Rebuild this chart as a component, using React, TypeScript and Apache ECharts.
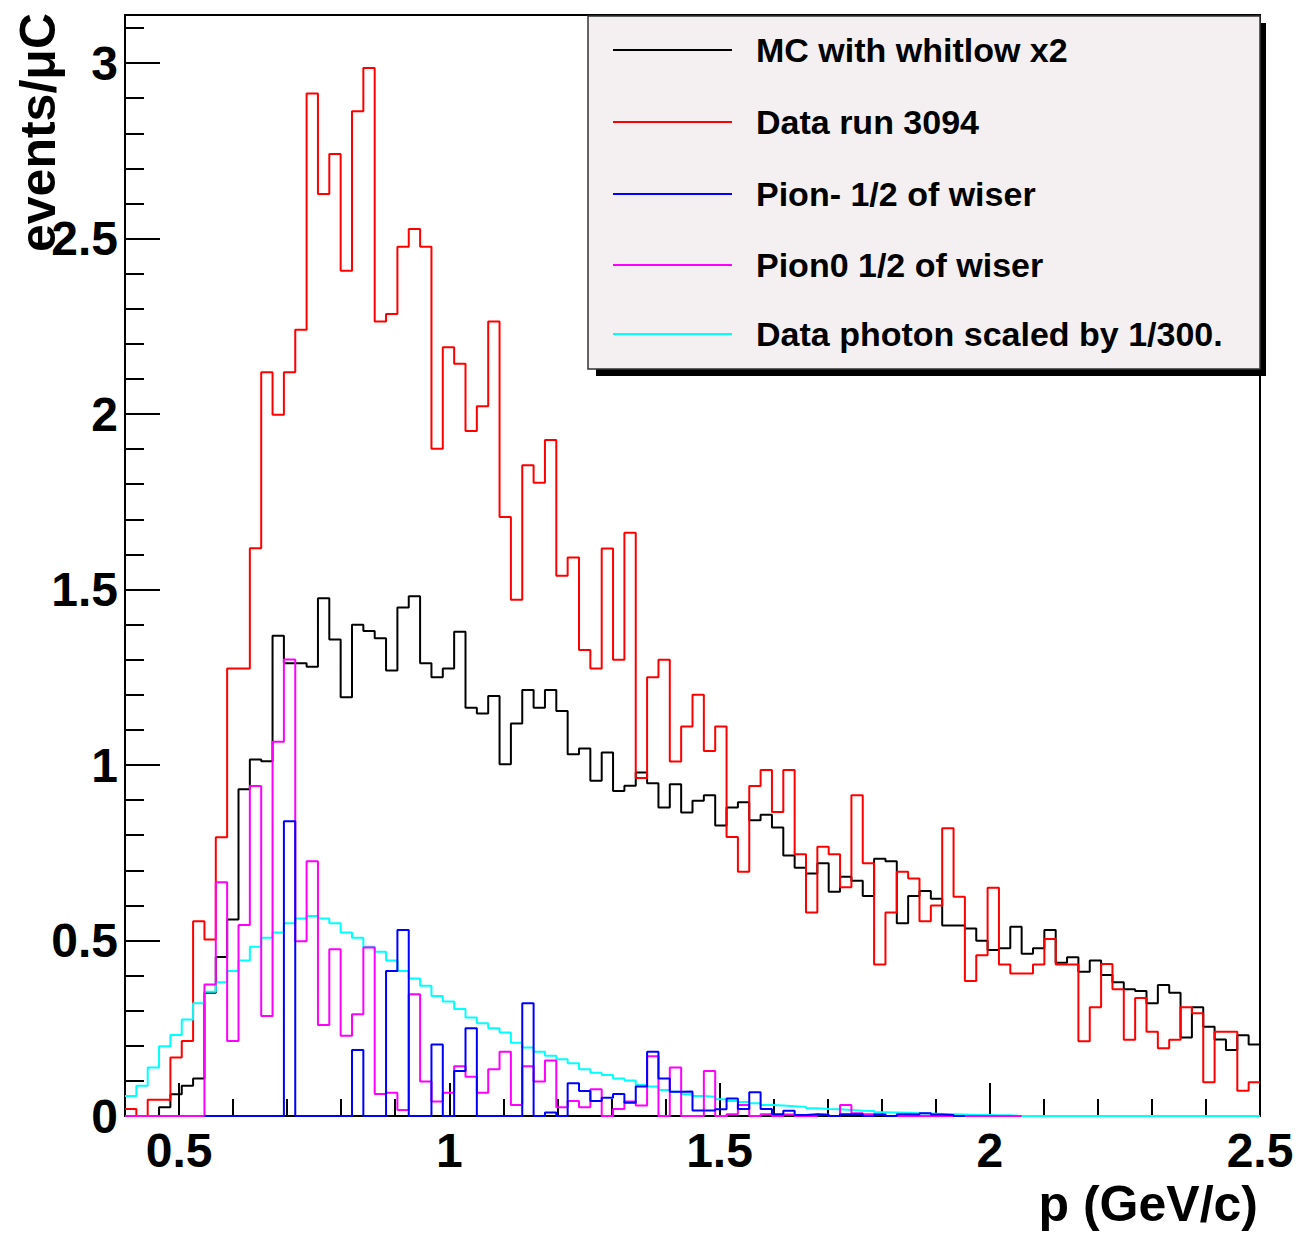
import React, { useEffect, useRef } from 'react';
import * as echarts from 'echarts';

// Histogram binning (100 bins from 0.4 to 2.5 GeV/c)
const X_MIN = 0.4;
const X_MAX = 2.5;
const BIN_COUNT = 100;
const Y_MAX = 3.137;

const seriesNames = [
  'MC with whitlow x2',
  'Data run 3094',
  'Pion- 1/2 of wiser',
  'Pion0 1/2 of wiser',
  'Data photon scaled by 1/300.',
];

const mcWhitlow = [
  0, 0, 0, 0.025, 0.062, 0.086, 0.107, 0.351, 0.453, 0.56,
  0.931, 1.016, 1.011, 1.368, 1.29, 1.29, 1.28, 1.475, 1.358, 1.193,
  1.40, 1.382, 1.361, 1.269, 1.449, 1.481, 1.29, 1.25, 1.275, 1.38,
  1.163, 1.147, 1.197, 1.002, 1.118, 1.214, 1.163, 1.214, 1.154, 1.031,
  1.047, 0.955, 1.036, 0.926, 0.941, 0.979, 0.948, 0.879, 0.945, 0.865,
  0.898, 0.914, 0.828, 0.879, 0.894, 0.843, 0.858, 0.822, 0.742, 0.707,
  0.691, 0.72, 0.639, 0.682, 0.67, 0.627, 0.733, 0.726, 0.549, 0.627,
  0.641, 0.619, 0.543, 0.543, 0.534, 0.499, 0.473, 0.478, 0.539, 0.462,
  0.478, 0.53, 0.437, 0.452, 0.411, 0.443, 0.402, 0.381, 0.361, 0.356,
  0.321, 0.373, 0.351, 0.224, 0.31, 0.254, 0.218, 0.188, 0.23, 0.204,
];

const dataRun3094 = [
  0.02, 0, 0.046, 0.046, 0.167, 0.214, 0.555, 0.503, 0.794, 1.275,
  1.275, 1.618, 2.119, 1.998, 2.119, 2.24, 2.913, 2.627, 2.741, 2.408,
  2.863, 2.986, 2.264, 2.285, 2.477, 2.527, 2.477, 1.901, 2.19, 2.143,
  1.952, 2.022, 2.264, 1.707, 1.471, 1.854, 1.804, 1.926, 1.539, 1.591,
  1.328, 1.275, 1.617, 1.30, 1.662, 0.963, 1.25, 1.30, 1.01, 1.11,
  1.20, 1.04, 1.11, 0.795, 0.696, 0.94, 0.986, 0.866, 0.986, 0.746,
  0.58, 0.767, 0.746, 0.652, 0.914, 0.72, 0.432, 0.58, 0.696, 0.677,
  0.555, 0.60, 0.82, 0.625, 0.385, 0.458, 0.65, 0.432, 0.406, 0.406,
  0.432, 0.504, 0.432, 0.432, 0.213, 0.31, 0.433, 0.361, 0.217, 0.336,
  0.24, 0.193, 0.217, 0.31, 0.293, 0.096, 0.24, 0.24, 0.072, 0.096,
];

const pionMinus = [
  0, 0, 0, 0, 0, 0, 0, 0, 0, 0,
  0, 0, 0, 0, 0.84, 0, 0, 0, 0, 0,
  0.188, 0, 0, 0.413, 0.53, 0, 0, 0.204, 0, 0.128,
  0.25, 0, 0, 0, 0, 0.321, 0, 0.01, 0, 0.093,
  0.071, 0.043, 0.052, 0.063, 0.038, 0.084, 0.183, 0.107, 0.069, 0.07,
  0.016, 0.016, 0.019, 0.05, 0.02, 0.068, 0.02, 0.005, 0.015, 0.003,
  0.005, 0.003, 0, 0.005, 0.006, 0, 0.004, 0, 0.005, 0.004,
  0.008, 0.004, 0.003, 0, 0, 0, 0, 0, 0, 0,
  0, 0, 0, 0, 0, 0, 0, 0, 0, 0,
  0, 0, 0, 0, 0, 0, 0, 0, 0, 0,
];
const PION_MINUS_FIRST = 7;
const PION_MINUS_LAST = 73;

const pion0 = [
  0, 0, 0, 0, 0, 0, 0, 0.375, 0.666, 0.214,
  0.544, 0.94, 0.285, 1.066, 1.301, 0.498, 0.726, 0.259, 0.475, 0.229,
  0.29, 0.48, 0.063, 0.066, 0.017, 0.347, 0.098, 0.041, 0.066, 0.142,
  0.112, 0.066, 0.133, 0.183, 0.031, 0.142, 0.098, 0.158, 0.025, 0.043,
  0.025, 0.076, 0, 0.02, 0.041, 0.03, 0.17, 0, 0.138, 0,
  0, 0.128, 0, 0.005, 0.031, 0, 0.005, 0, 0.004, 0,
  0, 0.004, 0, 0.031, 0.008, 0.005, 0.004, 0, 0, 0,
  0, 0, 0, 0, 0, 0, 0, 0, 0, 0,
  0, 0, 0, 0, 0, 0, 0, 0, 0, 0,
  0, 0, 0, 0, 0, 0, 0, 0, 0, 0,
];
const PION0_LAST = 78;

const dataPhoton = [
  0.057, 0.086, 0.138, 0.199, 0.231, 0.275, 0.321, 0.354, 0.381, 0.413,
  0.443, 0.482, 0.508, 0.523, 0.549, 0.563, 0.57, 0.563, 0.549, 0.523,
  0.508, 0.482, 0.468, 0.443, 0.413, 0.392, 0.371, 0.342, 0.326, 0.305,
  0.281, 0.264, 0.25, 0.238, 0.209, 0.195, 0.183, 0.172, 0.162, 0.15,
  0.133, 0.123, 0.117, 0.107, 0.101, 0.088, 0.084, 0.074, 0.069, 0.062,
  0.057, 0.055, 0.048, 0.043, 0.04, 0.036, 0.031, 0.03, 0.028, 0.026,
  0.022, 0.02, 0.019, 0.017, 0.015, 0.014, 0.011, 0.01, 0.009, 0.008,
  0.007, 0.006, 0.005, 0.004, 0.003, 0.003, 0.002, 0.002, 0, 0,
  0, 0, 0, 0, 0, 0, 0, 0, 0, 0,
  0, 0, 0, 0, 0, 0, 0, 0, 0, 0,
];

const xMajorTicks = [0.5, 1, 1.5, 2, 2.5];
const xMinorTicks = [0.5, 0.6, 0.7, 0.8, 0.9, 1, 1.1, 1.2, 1.3, 1.4, 1.5, 1.6, 1.7, 1.8, 1.9, 2, 2.1, 2.2, 2.3, 2.4];
const yMajorTicks = [0, 0.5, 1, 1.5, 2, 2.5, 3];
const yMinorTicks = [0.1, 0.2, 0.3, 0.4, 0.6, 0.7, 0.8, 0.9, 1.1, 1.2, 1.3, 1.4, 1.6, 1.7, 1.8, 1.9, 2.1, 2.2, 2.3, 2.4, 2.6, 2.7, 2.8, 2.9, 3.1];

const COLORS = ['#000000', '#ff0000', '#0000ff', '#ff00ff', '#00ffff'];
const FONT = '"Liberation Sans", Arial, Helvetica, sans-serif';

function steps(values: number[], first = 0, last = values.length - 1) {
  const w = (X_MAX - X_MIN) / BIN_COUNT;
  const pts: number[][] = [];
  for (let i = first; i <= last; i++) pts.push([X_MIN + i * w, values[i]]);
  pts.push([X_MIN + (last + 1) * w, values[last]]);
  return pts;
}

export default function App() {
  const ref = useRef<HTMLDivElement>(null);
  useEffect(() => {
    if (!ref.current) return;
    const chart = echarts.init(ref.current, undefined, { renderer: 'svg' });

    const tickStyle = { color: '#000', width: 2 };
    const histo = (name: string, color: string, data: number[][]) => ({
      name,
      type: 'line',
      step: 'end',
      showSymbol: false,
      symbol: 'none',
      data,
      lineStyle: { color, width: 2 },
      itemStyle: { color },
      xAxisIndex: 0,
      yAxisIndex: 0,
      silent: true,
    });

    const legendRows = [50, 122, 194, 265, 334];
    const legendGraphics: any[] = [
      { type: 'rect', shape: { x: 596, y: 23, width: 670, height: 353 }, style: { fill: '#000' }, z: 100 },
      { type: 'rect', shape: { x: 588, y: 16, width: 672, height: 353 }, style: { fill: '#f4f0f2', stroke: '#333', lineWidth: 1.5 }, z: 101 },
    ];
    seriesNames.forEach((name, i) => {
      legendGraphics.push({
        type: 'line', shape: { x1: 613, y1: legendRows[i], x2: 732, y2: legendRows[i] },
        style: { stroke: COLORS[i], lineWidth: 2 }, z: 102,
      });
      legendGraphics.push({
        type: 'text', x: 756, y: legendRows[i],
        style: { text: name, font: `bold 34px ${FONT}`, fill: '#000', textVerticalAlign: 'middle', textAlign: 'left' },
        z: 102,
      });
    });

    chart.setOption({
      animation: false,
      backgroundColor: '#ffffff',
      grid: {
        left: 125, top: 15, width: 1135, height: 1101,
        show: true, borderColor: '#000', borderWidth: 2, backgroundColor: 'transparent',
        containLabel: false, outerBoundsMode: 'none',
      },
      xAxis: [
        {
          type: 'value', min: X_MIN, max: X_MAX, position: 'bottom',
          axisLine: { show: true, onZero: false, lineStyle: tickStyle },
          axisTick: { show: true, inside: true, length: 33, customValues: xMajorTicks, lineStyle: tickStyle },
          axisLabel: {
            show: true, customValues: xMajorTicks, formatter: (v: number) => String(v),
            fontSize: 48, fontWeight: 'bold', color: '#000', fontFamily: FONT, margin: 10,
          },
          splitLine: { show: false },
        },
        {
          type: 'value', min: X_MIN, max: X_MAX, position: 'bottom',
          axisLine: { show: false, onZero: false },
          axisTick: { show: true, inside: true, length: 17, customValues: xMinorTicks, lineStyle: tickStyle },
          axisLabel: { show: false },
          splitLine: { show: false },
        },
      ],
      yAxis: [
        {
          type: 'value', min: 0, max: Y_MAX, position: 'left',
          axisLine: { show: true, onZero: false, lineStyle: tickStyle },
          axisTick: { show: true, inside: true, length: 35, customValues: yMajorTicks, lineStyle: tickStyle },
          axisLabel: {
            show: true, customValues: yMajorTicks, formatter: (v: number) => String(v),
            fontSize: 48, fontWeight: 'bold', color: '#000', fontFamily: FONT, margin: 7,
          },
          splitLine: { show: false },
        },
        {
          type: 'value', min: 0, max: Y_MAX, position: 'left',
          axisLine: { show: false, onZero: false },
          axisTick: { show: true, inside: true, length: 19, customValues: yMinorTicks, lineStyle: tickStyle },
          axisLabel: { show: false },
          splitLine: { show: false },
        },
      ],
      series: [
        histo(seriesNames[0], COLORS[0], steps(mcWhitlow)),
        histo(seriesNames[1], COLORS[1], steps(dataRun3094)),
        histo(seriesNames[4], COLORS[4], steps(dataPhoton)),
        histo(seriesNames[3], COLORS[3], steps(pion0, 0, PION0_LAST)),
        histo(seriesNames[2], COLORS[2], steps(pionMinus, PION_MINUS_FIRST, PION_MINUS_LAST)),
      ],
      graphic: [
        {
          type: 'text', x: 1258, y: 1204,
          style: { text: 'p (GeV/c)', font: `bold 50px ${FONT}`, fill: '#000', textAlign: 'right', textVerticalAlign: 'middle' },
          z: 50,
        },
        {
          type: 'text', x: 38, y: 13, rotation: Math.PI / 2,
          style: { text: 'events/μC', font: `bold 50px ${FONT}`, fill: '#000', textAlign: 'right', textVerticalAlign: 'middle' },
          z: 50,
        },
        ...legendGraphics,
      ],
    });

    return () => chart.dispose();
  }, []);

  return (
    <div
      ref={ref}
      style={{ position: 'absolute', left: 0, top: 0, width: 1303, height: 1234, background: '#fff' }}
    />
  );
}
